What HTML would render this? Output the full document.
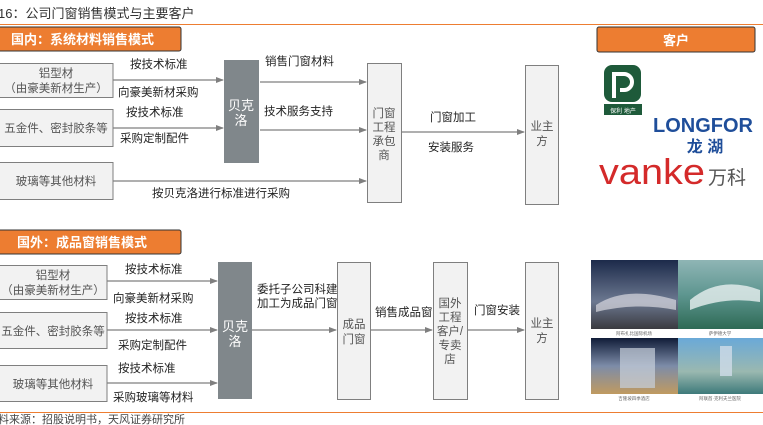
<!DOCTYPE html>
<html><head><meta charset="utf-8"><style>
html,body{margin:0;padding:0;background:#fff;}
svg{display:block;font-family:"Liberation Sans","Noto Sans CJK SC",sans-serif;}
</style></head><body>
<svg width="763" height="425" viewBox="0 0 763 425" xmlns="http://www.w3.org/2000/svg">
<defs>
<marker id="a" markerWidth="8" markerHeight="8" refX="7" refY="4" orient="auto" markerUnits="userSpaceOnUse"><path d="M0,1 L8,4 L0,7 z" fill="#7f7f7f"/></marker>
<linearGradient id="p1" x1="0" y1="0" x2="0" y2="1"><stop offset="0" stop-color="#1c2a4a"/><stop offset="0.6" stop-color="#6c7890"/><stop offset="1" stop-color="#3a3a40"/></linearGradient>
<linearGradient id="p2" x1="0" y1="0" x2="0" y2="1"><stop offset="0" stop-color="#8fb5b5"/><stop offset="0.5" stop-color="#5e9690"/><stop offset="1" stop-color="#2e6a55"/></linearGradient>
<linearGradient id="p3" x1="0" y1="0" x2="0" y2="1"><stop offset="0" stop-color="#101c38"/><stop offset="0.5" stop-color="#7d8ca8"/><stop offset="1" stop-color="#c09a60"/></linearGradient>
<linearGradient id="p4" x1="0" y1="0" x2="0" y2="1"><stop offset="0" stop-color="#6aa9d8"/><stop offset="0.6" stop-color="#9ab8b0"/><stop offset="1" stop-color="#3e7a7a"/></linearGradient>
</defs>
<text x="-2" y="18" font-size="13" fill="#333">16：公司门窗销售模式与主要客户</text>
<line x1="0" y1="24.5" x2="763" y2="24.5" stroke="#ED7D31" stroke-width="1"/>
<line x1="0" y1="412.5" x2="763" y2="412.5" stroke="#ED7D31" stroke-width="1"/>
<text x="-2" y="423" font-size="11" fill="#444">料来源：招股说明书，天风证券研究所</text>

<rect x="-2" y="27" width="183" height="24" rx="2" fill="#ED7D31" stroke="#333" stroke-width="1"/>
<text x="11" y="44" font-size="13" font-weight="bold" fill="#fff">国内：系统材料销售模式</text>
<rect x="-2" y="230" width="183" height="24" rx="2" fill="#ED7D31" stroke="#333" stroke-width="1"/>
<text x="17" y="247" font-size="13" font-weight="bold" fill="#fff">国外：成品窗销售模式</text>
<rect x="597" y="27" width="158" height="25" rx="2" fill="#ED7D31" stroke="#333" stroke-width="1"/>
<text x="676" y="45" font-size="13" font-weight="bold" fill="#fff" text-anchor="middle">客户</text>

<g fill="#f2f2f2" stroke="#7f7f7f" stroke-width="1">
<rect x="-1" y="63.5" width="114" height="34"/>
<rect x="-1" y="109.5" width="114" height="37"/>
<rect x="-1" y="162.5" width="114" height="37"/>
<rect x="367.5" y="63.5" width="34" height="139"/>
<rect x="525.5" y="65.5" width="33" height="139"/>
<rect x="-1" y="265.5" width="108" height="34"/>
<rect x="-1" y="312.5" width="108" height="36"/>
<rect x="-1" y="365.5" width="108" height="36"/>
<rect x="337.5" y="262.5" width="33" height="137"/>
<rect x="433.5" y="262.5" width="34" height="137"/>
<rect x="525.5" y="262.5" width="33" height="137"/>
</g>
<rect x="224" y="60" width="35" height="103" fill="#80878b"/>
<rect x="218" y="262" width="34" height="137" fill="#80878b"/>

<g stroke="#7f7f7f" stroke-width="1.2" marker-end="url(#a)">
<line x1="113" y1="80" x2="223" y2="80"/>
<line x1="113" y1="128" x2="223" y2="128"/>
<line x1="113" y1="181" x2="366" y2="181"/>
<line x1="260" y1="82" x2="366" y2="82"/>
<line x1="260" y1="130" x2="366" y2="130"/>
<line x1="402" y1="132" x2="524" y2="132"/>
<line x1="107" y1="281" x2="217" y2="281"/>
<line x1="107" y1="330" x2="217" y2="330"/>
<line x1="107" y1="383" x2="217" y2="383"/>
<line x1="252" y1="330" x2="336" y2="330"/>
<line x1="371" y1="330" x2="432" y2="330"/>
<line x1="468" y1="330" x2="524" y2="330"/>
</g>

<g font-size="11.5" fill="#555" text-anchor="middle">
<text x="56" y="77">铝型材</text>
<text x="56" y="92">（由豪美新材生产）</text>
<text x="56" y="132">五金件、密封胶条等</text>
<text x="56" y="185">玻璃等其他材料</text>
<text x="384" y="117">门窗</text><text x="384" y="131">工程</text><text x="384" y="145">承包</text><text x="384" y="159">商</text>
<text x="542" y="130">业主</text><text x="542" y="145">方</text>
<text x="53" y="279">铝型材</text>
<text x="53" y="294">（由豪美新材生产）</text>
<text x="53" y="335">五金件、密封胶条等</text>
<text x="53" y="388">玻璃等其他材料</text>
<text x="354" y="328">成品</text><text x="354" y="343">门窗</text>
<text x="450" y="307">国外</text><text x="450" y="321">工程</text><text x="450" y="335">客户/</text><text x="450" y="349">专卖</text><text x="450" y="363">店</text>
<text x="542" y="327">业主</text><text x="542" y="342">方</text>
</g>
<g font-size="13" fill="#fff" text-anchor="middle">
<text x="241" y="110">贝克</text><text x="241" y="125">洛</text>
<text x="235" y="331">贝克</text><text x="235" y="346">洛</text>
</g>
<g font-size="11.5" fill="#222">
<text x="130" y="68">按技术标准</text>
<text x="118" y="96">向豪美新材采购</text>
<text x="126" y="116">按技术标准</text>
<text x="120" y="142">采购定制配件</text>
<text x="152" y="197">按贝克洛进行标准进行采购</text>
<text x="265" y="65">销售门窗材料</text>
<text x="264" y="115">技术服务支持</text>
<text x="430" y="121">门窗加工</text>
<text x="428" y="151">安装服务</text>
<text x="125" y="273">按技术标准</text>
<text x="113" y="302">向豪美新材采购</text>
<text x="125" y="322">按技术标准</text>
<text x="118" y="349">采购定制配件</text>
<text x="118" y="372">按技术标准</text>
<text x="113" y="401">采购玻璃等材料</text>
<text x="257" y="293">委托子公司科建</text>
<text x="257" y="307">加工为成品门窗</text>
<text x="375" y="316">销售成品窗</text>
<text x="474" y="314">门窗安装</text>
</g>

<rect x="604" y="65" width="37" height="37" rx="8" fill="#1e5a3a"/>
<path d="M614,98 V74 h10 a8,8 0 0 1 0,16 h-4" stroke="#fff" stroke-width="4" fill="none"/>
<rect x="604" y="104" width="38" height="11" fill="#1e5a3a"/>
<text x="623" y="113" font-size="6" fill="#fff" text-anchor="middle">保利 地产</text>
<text x="703" y="132" font-size="20" font-weight="bold" fill="#1f4e9a" text-anchor="middle">LONGFOR</text>
<text x="705" y="152" font-size="16" font-weight="bold" fill="#1f4e9a" text-anchor="middle">龙 湖</text>
<text x="599" y="184" font-size="36" fill="#d42a2a" textLength="106" lengthAdjust="spacingAndGlyphs" font-weight="normal">vanke</text>
<text x="708" y="184" font-size="19" fill="#555">万科</text>

<rect x="591" y="260" width="87" height="69" fill="url(#p1)"/>
<rect x="678" y="260" width="85" height="69" fill="url(#p2)"/>
<rect x="591" y="338" width="87" height="56" fill="url(#p3)"/>
<rect x="678" y="338" width="85" height="56" fill="url(#p4)"/>
<path d="M596,305 q30,-20 80,-5 l0,10 q-40,-8 -80,2z" fill="#d8d8e0" opacity="0.7"/>
<path d="M690,300 q30,-25 70,-10 l0,12 q-35,-6 -70,8z" fill="#e8f0f0" opacity="0.8"/>
<rect x="620" y="348" width="35" height="40" fill="#c8d0dc" opacity="0.7"/>
<rect x="720" y="346" width="12" height="30" fill="#d0dce8" opacity="0.8"/>
<g font-size="4.5" fill="#666" text-anchor="middle">
<text x="634" y="335">阿布扎比国际机场</text><text x="720" y="335">萨伊德大学</text>
<text x="634" y="400">吉隆坡四季酒店</text><text x="720" y="400">阿联酋·克利夫兰医院</text>
</g>
</svg>
</body></html>
